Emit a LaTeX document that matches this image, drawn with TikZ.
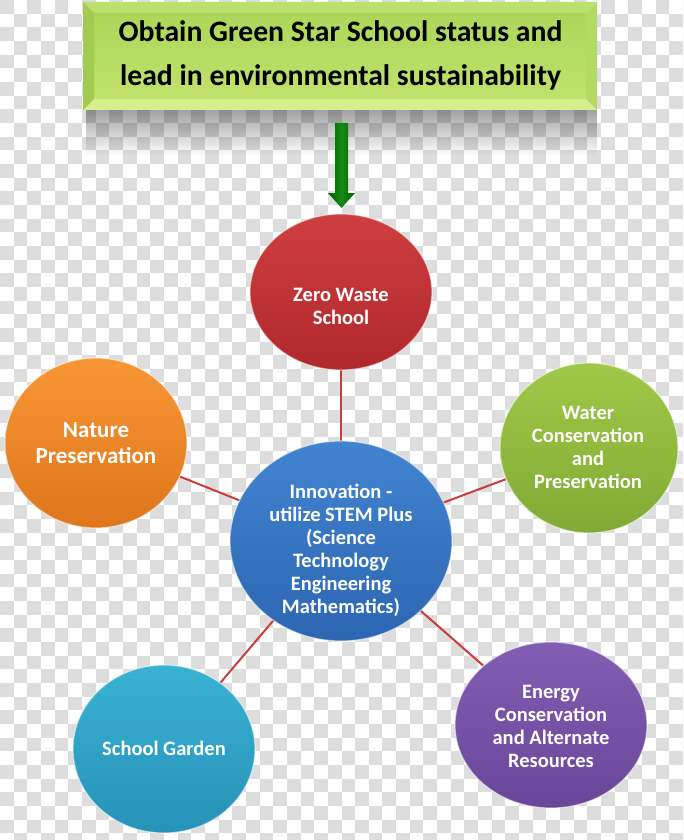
\documentclass[tikz,border=0pt]{standalone}
\usepackage{fontspec}
\setmainfont{Carlito}
\usetikzlibrary{shapes.geometric,fadings}
\definecolor{checkgray}{RGB}{221,221,221}
\definecolor{linkred}{RGB}{205,60,62}
\definecolor{redT}{RGB}{206,62,64}\definecolor{redB}{RGB}{176,40,44}
\definecolor{orgT}{RGB}{248,150,52}\definecolor{orgB}{RGB}{222,118,28}
\definecolor{grnT}{RGB}{160,200,72}\definecolor{grnB}{RGB}{128,170,52}
\definecolor{bluT}{RGB}{66,132,208}\definecolor{bluB}{RGB}{44,102,178}
\definecolor{cyaT}{RGB}{58,178,212}\definecolor{cyaB}{RGB}{38,146,184}
\definecolor{purT}{RGB}{130,94,180}\definecolor{purB}{RGB}{104,70,152}
\definecolor{boxFaceT}{RGB}{172,214,90}\definecolor{boxFaceB}{RGB}{192,226,108}
\definecolor{bevTop}{RGB}{188,224,112}\definecolor{bevBot}{RGB}{214,238,140}
\definecolor{bevLeft}{RGB}{162,204,80}\definecolor{bevRight}{RGB}{180,218,100}
\definecolor{arrD}{RGB}{0,96,0}\definecolor{arrL}{RGB}{20,140,20}
\pgfdeclarelayer{bg}\pgfdeclarelayer{links}
\pgfsetlayers{bg,links,main}
\tikzset{
  ball/.style={ellipse, inner sep=0pt, draw=white, draw opacity=0.55, line width=1.2pt},
  balltext/.style={text=white, font=\bfseries\fontsize{20.5}{23}\selectfont, align=center, inner sep=0pt},
  bigballtext/.style={text=white, font=\bfseries\fontsize{23}{26}\selectfont, align=center, inner sep=0pt},
  goaltext/.style={text=black, font=\bfseries\fontsize{29.7}{44}\selectfont, align=center, inner sep=0pt},
  link/.style={draw=linkred, line width=2pt},
}
\begin{document}
\begin{tikzpicture}[x=1pt,y=-1pt]
\useasboundingbox (0,0) rectangle (683,840);
% transparency checkerboard
\begin{pgfonlayer}{bg}
\fill[white] (0,0) rectangle (683,840);
\begin{scope}
\clip (0,0) rectangle (683,840);
\foreach \i in {0,2,...,50}{
  \foreach \j in {0,2,...,62}{
    \fill[checkgray] (\i*13.66,\j*13.66) rectangle ++(13.66,13.66);
    \fill[checkgray] (\i*13.66+13.66,\j*13.66+13.66) rectangle ++(13.66,13.66);
  }
}
\end{scope}
% shadow under goal box
\fill[black, fill opacity=0.38, path fading=south] (86,108) rectangle (597,156);
\end{pgfonlayer}
% goal box with bevel
\shade[top color=boxFaceT, bottom color=boxFaceB] (94,13) rectangle (586,99);
\fill[bevTop] (83,2) -- (597,2) -- (586,13) -- (94,13) -- cycle;
\fill[bevBot] (83,110) -- (597,110) -- (586,99) -- (94,99) -- cycle;
\fill[bevLeft] (83,2) -- (94,13) -- (94,99) -- (83,110) -- cycle;
\fill[bevRight] (597,2) -- (586,13) -- (586,99) -- (597,110) -- cycle;
\node[goaltext] (goal) at (340.5,55) {Obtain Green Star School status and\\lead in environmental sustainability};
% green arrow
\shade[left color=arrD, right color=arrD, middle color=arrL]
  (335,123) -- (348,123) -- (348,193) -- (355,193) -- (341.5,208) -- (328,193) -- (335,193) -- cycle;
% balls
\node[ball, minimum width=182, minimum height=156, top color=redT, bottom color=redB] (zero) at (341,292) {};
\node[ball, minimum width=182, minimum height=170, top color=orgT, bottom color=orgB] (nature) at (96,443) {};
\node[ball, minimum width=178, minimum height=170, top color=grnT, bottom color=grnB] (water) at (589,448) {};
\node[ball, minimum width=222, minimum height=200, top color=bluT, bottom color=bluB] (innov) at (341,541) {};
\node[ball, minimum width=182, minimum height=168, top color=cyaT, bottom color=cyaB] (garden) at (164,749) {};
\node[ball, minimum width=192, minimum height=166, top color=purT, bottom color=purB] (energy) at (551,725) {};
% labels
\node[balltext] (zerot) at (341,306) {Zero Waste\\School};
\node[bigballtext] (naturet) at (96,443) {Nature\\Preservation};
\node[balltext] (watert) at (588,447) {Water\\Conservation\\and\\Preservation};
\node[balltext] (innovt) at (341,550) {Innovation -\\utilize STEM Plus\\(Science\\Technology\\Engineering\\Mathematics)};
\node[balltext] (gardent) at (164,748) {School Garden};
\node[balltext] (energyt) at (551,726) {Energy\\Conservation\\and Alternate\\Resources};
% connectors
\begin{pgfonlayer}{links}
\draw[link] (innov.center) -- (zero.center);
\draw[link] (innov.center) -- (nature.center);
\draw[link] (innov.center) -- (water.center);
\draw[link] (innov.center) -- (garden.center);
\draw[link] (innov.center) -- (energy.center);
\end{pgfonlayer}
\end{tikzpicture}
\end{document}
